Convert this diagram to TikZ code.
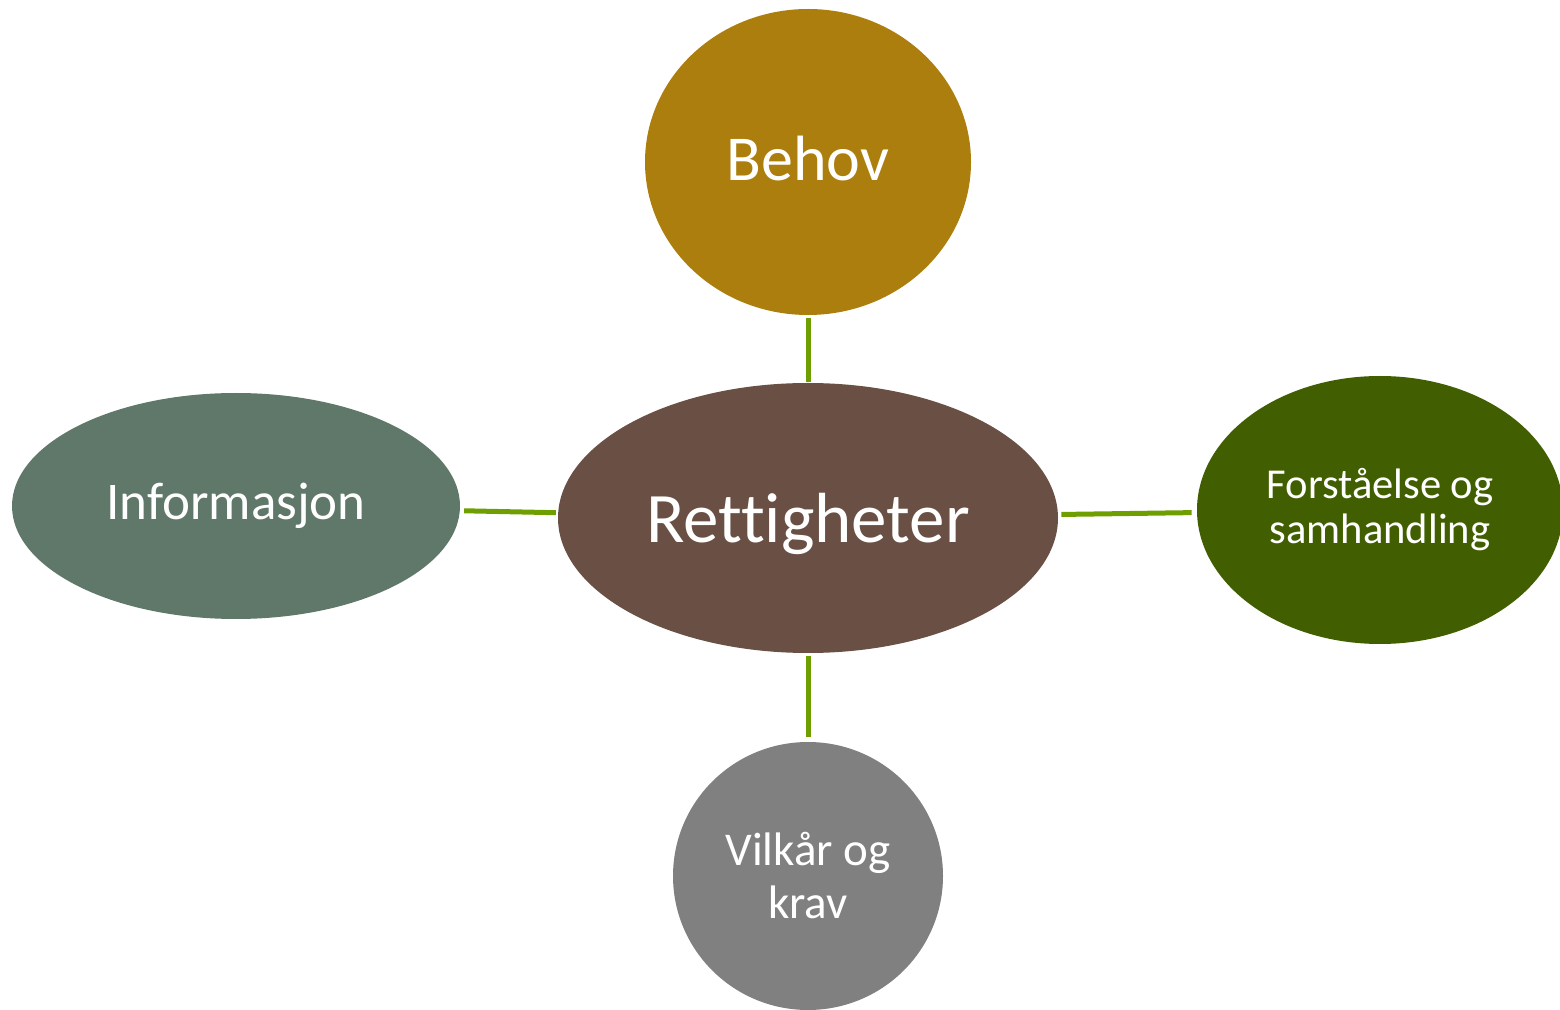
\documentclass[tikz,border=0pt]{standalone}
\usepackage{fontspec}
\setmainfont{Carlito}[Ligatures=NoCommon]
\usetikzlibrary{shapes.geometric}
\definecolor{behovc}{HTML}{AC7E0E}
\definecolor{rettc}{HTML}{6A5044}
\definecolor{infoc}{HTML}{60786A}
\definecolor{forstc}{HTML}{415F00}
\definecolor{vilkc}{HTML}{808080}
\definecolor{linkc}{HTML}{6E9E00}
\begin{document}
\begin{tikzpicture}[x=0.5pt,y=-0.5pt,
  bubble/.style={ellipse, inner sep=0pt, text=white, align=center},
  link/.style={draw=linkc, line width=2.5pt}]
\useasboundingbox (0,0) rectangle (1560,1010);
\clip (0,0) rectangle (1560,1010);
\node[bubble, fill=behovc, minimum width=163pt, minimum height=153pt, text depth=4pt,
  font=\fontsize{32}{38}\selectfont] (behov) at (808,162) {Behov};
\node[bubble, fill=rettc, minimum width=250pt, minimum height=135pt, text depth=0pt,
  font=\fontsize{35.5}{42}\selectfont] (rett) at (808,518) {Rettigheter};
\node[bubble, fill=infoc, minimum width=224pt, minimum height=113pt,
  font=\fontsize{26.5}{32}\selectfont] (info) at (236,506) {Informasjon};
\node[bubble, fill=forstc, minimum width=183pt, minimum height=134pt,
  font=\fontsize{21.3}{22.5}\selectfont] (forst) at (1380,510) {Forståelse og\\samhandling};
\node[bubble, fill=vilkc, minimum width=135pt, minimum height=134pt,
  font=\fontsize{23.5}{26.5}\selectfont] (vilk) at (808,876) {Vilkår og\\krav};
\draw[link, shorten <=1.5pt, shorten >=0.5pt] (behov) -- (rett);
\draw[link, shorten <=1.5pt, shorten >=2.5pt] (rett) -- (vilk);
\draw[link, shorten <=2pt, shorten >=1pt] (info) -- (rett);
\draw[link, shorten <=1.5pt, shorten >=2.5pt] (rett) -- (forst);
\end{tikzpicture}
\end{document}
